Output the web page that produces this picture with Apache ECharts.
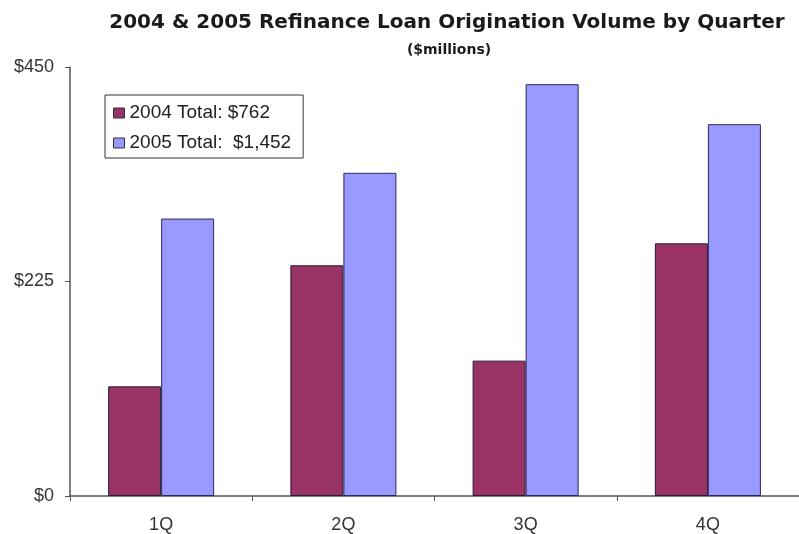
<!DOCTYPE html>
<html>
<head>
<meta charset="utf-8">
<script src="https://cdn.jsdelivr.net/npm/echarts@6/dist/echarts.min.js"></script>
<style>
  html, body { margin: 0; padding: 0; background: #ffffff; }
  #chart { width: 799px; height: 534px; }
</style>
</head>
<body>
<div id="chart"></div>
<script>
// Quarterly refinance origination volume, $ millions
const quarters = ['1Q', '2Q', '3Q', '4Q'];
const volume2004 = [115, 242, 142, 265];
const volume2005 = [291, 339, 432, 390];
const yTicks = [0, 225, 450];
const name2004 = '2004 Total: $762';
const name2005 = '2005 Total:  $1,452';

const chart = echarts.init(document.getElementById('chart'), null, { renderer: 'canvas' });

chart.setOption({
  backgroundColor: '#ffffff',
  animation: false,
  title: [
    {
      text: '2004 & 2005 Refinance Loan Origination Volume by Quarter',
      left: 442, top: 8, textAlign: 'center',
      textStyle: { fontFamily: 'DejaVu Sans', fontWeight: 'bold', fontSize: 20, color: '#1a1a1a' }
    },
    {
      text: '($millions)',
      left: 444, top: 38, textAlign: 'center',
      textStyle: { fontFamily: 'DejaVu Sans', fontWeight: 'bold', fontSize: 14, color: '#1a1a1a' }
    }
  ],
  legend: {
    left: 105, top: 95,
    orient: 'vertical',
    itemWidth: 11, itemHeight: 10, itemGap: 10,
    padding: [8, 12, 5, 8],
    borderColor: '#333333', borderWidth: 1,
    backgroundColor: '#ffffff',
    icon: 'rect',
    itemStyle: { borderColor: '#333333', borderWidth: 1 },
    textStyle: { fontFamily: 'Liberation Sans', fontSize: 19, lineHeight: 20, color: '#222222' },
    data: [name2004, name2005]
  },
  grid: { left: 70, top: 67, width: 736, height: 429, containLabel: false },
  xAxis: {
    type: 'category',
    data: quarters,
    axisLine: { lineStyle: { color: '#555555', width: 1.5 } },
    axisTick: { show: true, length: 5, lineStyle: { color: '#555555' } },
    axisLabel: { fontFamily: 'Liberation Sans', fontSize: 18, color: '#333333', margin: 20 }
  },
  yAxis: {
    type: 'value',
    min: yTicks[0], max: yTicks[yTicks.length - 1], interval: yTicks[1] - yTicks[0],
    axisLine: { show: true, lineStyle: { color: '#555555', width: 1.5 } },
    axisTick: { show: true, length: 5, lineStyle: { color: '#555555' } },
    splitLine: { show: false },
    axisLabel: {
      fontFamily: 'Liberation Sans', fontSize: 18, color: '#333333', margin: 16,
      formatter: v => '$' + v
    }
  },
  series: [
    {
      name: name2004, type: 'bar', data: volume2004,
      barWidth: 53, barGap: '0%',
      itemStyle: { color: '#993366', borderColor: '#2a1a3a', borderWidth: 1 }
    },
    {
      name: name2005, type: 'bar', data: volume2005,
      barWidth: 53,
      itemStyle: { color: '#9999ff', borderColor: '#2a2a5a', borderWidth: 1 }
    }
  ]
});
</script>
</body>
</html>
